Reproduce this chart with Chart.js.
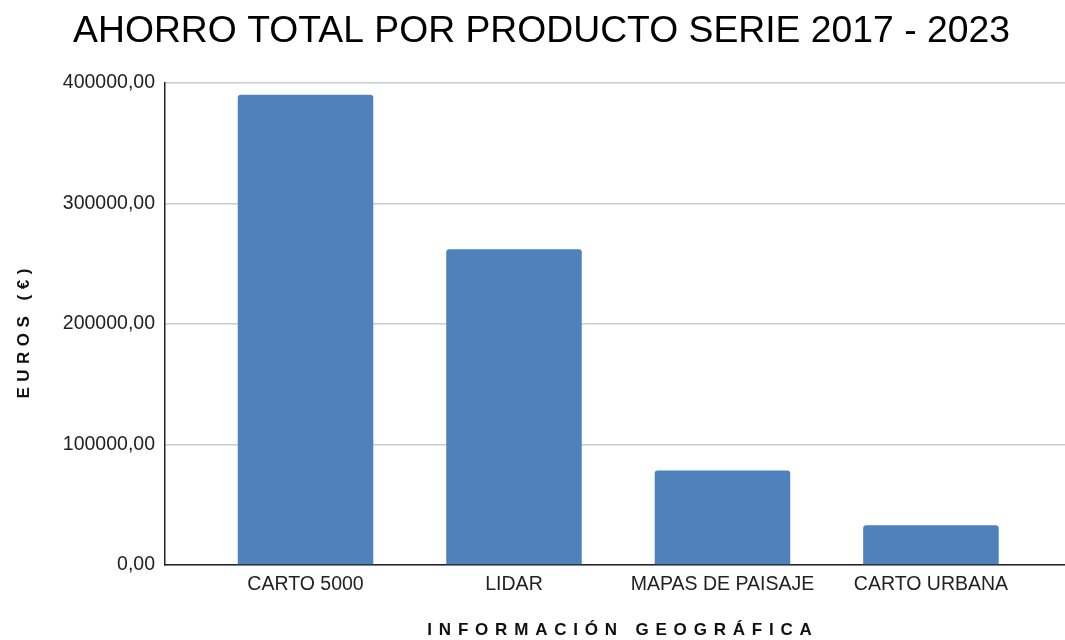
<!DOCTYPE html>
<html lang="es">
<head>
    <meta charset="UTF-8">
    <title>Ahorro total por producto</title>
    <script src="https://cdn.jsdelivr.net/npm/chart.js"></script>
    <style>
        body { margin: 0; background: #fff; }
        #wrap { width: 1065px; height: 640px; }
    </style>
</head>
<body>
    <div id="wrap"><canvas id="chart"></canvas></div>

    <script>
        // data
        const productos = ['CARTO 5000', 'LIDAR', 'MAPAS DE PAISAJE', 'CARTO URBANA'];
        const ahorro = [390000, 262000, 78300, 32900];
        const yTicks = [0, 100000, 200000, 300000, 400000];

        const FONT = '"Liberation Sans", Arial, sans-serif';

        // axis titles are drawn by hand so they can get letter spacing
        const axisTitles = {
            id: 'axisTitles',
            afterDraw(chart) {
                const ctx = chart.ctx;
                const area = chart.chartArea;
                ctx.save();
                ctx.fillStyle = '#111';
                ctx.font = 'bold 17px ' + FONT;
                ctx.textAlign = 'center';
                ctx.textBaseline = 'middle';
                ctx.letterSpacing = '6.8px';
                ctx.fillText('INFORMACIÓN GEOGRÁFICA', (area.left + area.right) / 2 + 8, 630);
                ctx.translate(24, (area.top + area.bottom) / 2 + 7);
                ctx.rotate(-Math.PI / 2);
                ctx.letterSpacing = '5.5px';
                ctx.fillText('EUROS (€)', 0, 0);
                ctx.restore();
            }
        };

        new Chart(document.getElementById('chart'), {
            type: 'bar',
            data: {
                datasets: [{
                    data: ahorro.map((v, i) => ({ x: i, y: v })),
                    backgroundColor: '#4f81bd',
                    borderRadius: { topLeft: 3, topRight: 3 },
                    borderSkipped: 'start',
                    barPercentage: 0.65,
                    categoryPercentage: 1
                }]
            },
            options: {
                responsive: true,
                maintainAspectRatio: false,
                animation: false,
                // left padding pushes the title centre a bit to the right, like the original
                layout: { padding: { left: 18, right: 0, top: 0, bottom: 0 } },
                plugins: {
                    legend: { display: false },
                    tooltip: { enabled: false },
                    title: {
                        display: true,
                        text: 'AHORRO TOTAL POR PRODUCTO SERIE 2017 - 2023',
                        color: '#000',
                        font: { family: FONT, size: 37.3, weight: 'normal', lineHeight: 1.2 },
                        padding: { top: 9, bottom: 29 }
                    }
                },
                scales: {
                    x: {
                        type: 'linear',
                        offset: false,
                        bounds: 'data',
                        min: -0.674,
                        max: 3.643,
                        grid: { display: false, drawTicks: false },
                        border: { color: '#222', width: 1.5 },
                        afterBuildTicks: s => { s.ticks = productos.map((p, i) => ({ value: i })); },
                        afterFit: s => { s.height = 75; },
                        ticks: {
                            padding: 8,
                            color: '#222',
                            font: { family: FONT, size: 19.5 },
                            maxRotation: 0,
                            autoSkip: false,
                            callback: v => productos[v] || ''
                        }
                    },
                    y: {
                        min: 0,
                        max: 400000,
                        grid: { color: '#cccccc', lineWidth: 1.6, drawTicks: false },
                        border: { color: '#222', width: 1.5 },
                        afterBuildTicks: s => { s.ticks = yTicks.map(v => ({ value: v })); },
                        afterFit: s => { s.width = 147; },
                        ticks: {
                            padding: 10,
                            color: '#222',
                            font: { family: FONT, size: 19.5 },
                            callback: v => v.toFixed(2).replace('.', ',')
                        }
                    }
                }
            },
            plugins: [axisTitles]
        });
    </script>
</body>
</html>
